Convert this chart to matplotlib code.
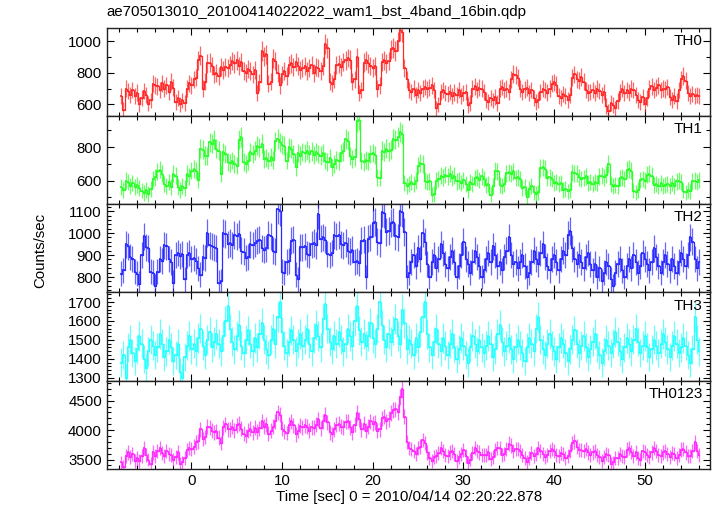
import numpy as np
import matplotlib
matplotlib.use("Agg")
import matplotlib.pyplot as plt
from matplotlib.ticker import MultipleLocator

plt.rcParams['font.family'] = ['Liberation Sans', 'DejaVu Sans']

title = "ae705013010_20100414022022_wam1_bst_4band_16bin.qdp"
xlabel = "Time [sec] 0 = 2010/04/14 02:20:22.878"
ylabel = "Counts/sec"
first_bin_center = -7.725
bin_width = 0.25

th0 = [
    650, 565, 700, 685, 660, 690, 650, 675, 600, 640, 685, 660, 605, 625, 730, 720,
    715, 690, 735, 700, 720, 680, 745, 705, 615, 640, 600, 625, 610, 700, 735, 720,
    760, 770, 880, 910, 700, 745, 860, 865, 845, 790, 800, 780, 835, 820, 840, 830,
    850, 875, 860, 880, 845, 870, 815, 800, 825, 810, 790, 820, 670, 740, 940, 905,
    920, 730, 745, 890, 875, 800, 720, 790, 810, 780, 850, 860, 835, 870, 845, 820,
    830, 845, 815, 830, 850, 800, 835, 830, 815, 845, 985, 960, 745, 730, 760, 850,
    855, 840, 870, 880, 895, 885, 745, 760, 900, 670, 690, 865, 880, 860, 845, 830,
    845, 700, 720, 870, 880, 860, 875, 950, 960, 940, 1000, 1070, 1060, 830, 760, 690,
    680, 700, 660, 690, 670, 700, 710, 695, 705, 720, 690, 575, 600, 680, 690, 670,
    665, 680, 650, 675, 660, 690, 655, 670, 680, 595, 610, 700, 715, 690, 705, 700,
    680, 630, 615, 640, 625, 645, 610, 700, 710, 690, 700, 680, 760, 795, 785, 770,
    700, 680, 695, 705, 670, 690, 640, 615, 630, 680, 700, 690, 675, 700, 730, 740,
    725, 655, 640, 665, 650, 630, 660, 770, 790, 760, 750, 775, 745, 690, 675, 680,
    690, 670, 700, 685, 660, 680, 590, 555, 610, 595, 575, 620, 680, 700, 670, 690,
    675, 700, 690, 660, 630, 615, 645, 600, 640, 700, 715, 690, 705, 720, 690, 700,
    695, 710, 645, 630, 650, 620, 690, 760, 780, 750, 670, 655, 665, 650, 660, 655,
]

th1 = [
    560, 545, 600, 590, 570, 585, 560, 575, 555, 540, 525, 545, 520, 550, 610, 620,
    655, 665, 640, 580, 565, 590, 560, 640, 630, 560, 545, 570, 555, 640, 625, 660,
    670, 660, 605, 790, 785, 750, 745, 830, 820, 845, 790, 780, 640, 770, 760, 710,
    705, 720, 700, 690, 845, 860, 710, 700, 715, 770, 760, 780, 810, 800, 820, 730,
    735, 720, 740, 725, 835, 850, 830, 815, 810, 720, 800, 790, 760, 680, 765, 750,
    770, 765, 780, 760, 775, 755, 770, 760, 750, 765, 720, 710, 735, 680, 700, 725,
    715, 765, 775, 850, 840, 745, 730, 740, 955, 965, 720, 710, 725, 715, 760, 765,
    755, 620, 615, 780, 770, 790, 775, 785, 850, 845, 860, 890, 880, 585, 570, 580,
    590, 580, 600, 690, 705, 700, 600, 590, 595, 515, 520, 600, 610, 630, 620, 635,
    625, 640, 615, 630, 595, 600, 585, 605, 580, 545, 590, 580, 615, 620, 605, 625,
    610, 575, 580, 515, 570, 660, 655, 575, 570, 580, 645, 650, 640, 655, 615, 620,
    610, 555, 560, 500, 550, 565, 530, 520, 530, 675, 680, 670, 615, 620, 610, 585,
    590, 580, 585, 545, 550, 535, 545, 650, 645, 640, 620, 610, 615, 625, 585, 590,
    580, 590, 585, 625, 630, 620, 635, 700, 580, 570, 575, 565, 615, 620, 610, 665,
    670, 660, 540, 530, 545, 605, 610, 600, 635, 640, 630, 575, 580, 565, 585, 570,
    575, 580, 570, 585, 565, 595, 600, 590, 540, 530, 545, 535, 595, 600, 590, 605,
]

th2 = [
    815, 830, 950, 940, 890, 880, 825, 815, 770, 900, 985, 935, 930, 825, 820, 760,
    825, 880, 875, 945, 940, 880, 870, 775, 900, 910, 895, 905, 790, 900, 910, 880,
    885, 875, 840, 810, 890, 885, 1000, 945, 940, 935, 930, 775, 780, 1000, 995, 950,
    955, 945, 990, 985, 995, 920, 915, 885, 890, 950, 945, 955, 965, 970, 930, 925,
    930, 990, 985, 920, 915, 1110, 1100, 825, 820, 870, 875, 965, 970, 810, 790, 935,
    935, 940, 905, 900, 950, 955, 945, 1085, 975, 980, 970, 905, 900, 910, 990, 985,
    990, 950, 945, 955, 920, 915, 925, 870, 875, 865, 965, 970, 800, 975, 980, 1045,
    1050, 960, 955, 1095, 1090, 1005, 1010, 1045, 1050, 985, 980, 1100, 1095, 1005, 800, 820,
    870, 900, 850, 930, 880, 1000, 960, 860, 800, 870, 900, 840, 880, 950, 910, 860,
    840, 890, 920, 870, 800, 850, 900, 960, 880, 860, 820, 870, 920, 890, 850, 800,
    830, 880, 910, 870, 940, 900, 850, 870, 830, 890, 920, 980, 900, 860, 870, 840,
    870, 900, 850, 800, 820, 870, 920, 880, 860, 910, 950, 890, 850, 830, 880, 900,
    870, 830, 880, 920, 900, 990, 1010, 930, 880, 860, 900, 870, 840, 890, 910, 860,
    830, 860, 800, 840, 780, 820, 870, 850, 790, 760, 820, 860, 880, 830, 800, 850,
    880, 840, 900, 870, 820, 850, 910, 880, 860, 830, 870, 930, 890, 850, 820, 870,
    900, 860, 830, 880, 850, 820, 870, 910, 880, 850, 900, 980, 960, 880, 840, 870,
]

th3 = [
    1380, 1420, 1300, 1460, 1500, 1430, 1390, 1450, 1520, 1480, 1400, 1350, 1440, 1500, 1470, 1420,
    1460, 1530, 1480, 1410, 1440, 1500, 1460, 1390, 1420, 1480, 1330, 1300, 1410, 1470, 1520, 1450,
    1480, 1440, 1510, 1560, 1470, 1420, 1500, 1540, 1460, 1490, 1530, 1480, 1440, 1520, 1600, 1680,
    1560, 1490, 1450, 1520, 1580, 1470, 1430, 1500, 1550, 1480, 1440, 1510, 1460, 1530, 1590, 1500,
    1450, 1420, 1500, 1560, 1480, 1620, 1700, 1540, 1470, 1430, 1490, 1550, 1500, 1440, 1480, 1530,
    1470, 1500, 1560, 1480, 1440, 1510, 1580, 1520, 1460, 1610, 1690, 1560, 1490, 1450, 1520, 1480,
    1540, 1500, 1440, 1480, 1560, 1520, 1470, 1600, 1680, 1550, 1490, 1530, 1470, 1520, 1590, 1510,
    1480, 1560, 1700, 1580, 1500, 1460, 1530, 1490, 1550, 1610, 1520, 1480, 1660, 1590, 1450, 1500,
    1480, 1420, 1510, 1460, 1540, 1620, 1700, 1530, 1460, 1420, 1490, 1560, 1480, 1440, 1510, 1470,
    1420, 1480, 1530, 1460, 1400, 1450, 1510, 1470, 1420, 1380, 1460, 1520, 1480, 1440, 1500, 1460,
    1430, 1470, 1520, 1480, 1410, 1450, 1530, 1580, 1490, 1440, 1470, 1510, 1450, 1400, 1460, 1500,
    1470, 1430, 1390, 1460, 1510, 1480, 1440, 1560, 1620, 1500, 1450, 1420, 1480, 1530, 1470, 1440,
    1400, 1460, 1510, 1480, 1430, 1390, 1450, 1500, 1550, 1480, 1430, 1470, 1520, 1460, 1410, 1450,
    1490, 1530, 1460, 1420, 1380, 1440, 1500, 1470, 1430, 1480, 1540, 1490, 1440, 1400, 1460, 1510,
    1480, 1440, 1500, 1560, 1490, 1430, 1470, 1520, 1460, 1410, 1450, 1500, 1470, 1430, 1480, 1530,
    1490, 1450, 1410, 1470, 1520, 1480, 1430, 1460, 1510, 1470, 1420, 1380, 1450, 1620, 1500, 1440,
]

th0123 = [
    3450, 3380, 3560, 3620, 3540, 3600, 3480, 3530, 3470, 3560, 3700, 3580, 3500, 3430, 3620, 3560,
    3640, 3690, 3610, 3560, 3650, 3600, 3580, 3500, 3540, 3620, 3420, 3450, 3520, 3660, 3700, 3680,
    3720, 3790, 3810, 4010, 3850, 3880, 4060, 4050, 3990, 3960, 3980, 3870, 3780, 4050, 4100, 4010,
    4010, 4060, 4000, 4080, 4110, 4020, 3940, 3900, 3990, 4020, 3960, 4040, 3970, 4030, 4150, 4060,
    4100, 3940, 3990, 4060, 4150, 4300, 4260, 4020, 3980, 3950, 4090, 4150, 4080, 3930, 3990, 4070,
    4050, 4080, 4060, 3990, 4050, 4040, 4090, 4180, 4030, 4150, 4260, 4130, 3960, 3930, 4010, 4090,
    4110, 4060, 4050, 4140, 4150, 4050, 3960, 4090, 4290, 4180, 4010, 4110, 3990, 4060, 4150, 4110,
    4130, 3990, 4010, 4200, 4230, 4150, 4190, 4290, 4340, 4350, 4310, 4560, 4690, 4230, 3800, 3700,
    3680, 3640, 3600, 3700, 3720, 3830, 3780, 3620, 3520, 3480, 3540, 3560, 3610, 3700, 3650, 3580,
    3560, 3620, 3640, 3590, 3480, 3540, 3600, 3660, 3560, 3440, 3500, 3610, 3700, 3640, 3620, 3580,
    3570, 3580, 3620, 3510, 3550, 3660, 3700, 3690, 3580, 3590, 3680, 3770, 3740, 3650, 3680, 3680,
    3640, 3580, 3530, 3460, 3530, 3610, 3560, 3600, 3690, 3640, 3600, 3540, 3580, 3640, 3680, 3650,
    3570, 3560, 3610, 3600, 3520, 3560, 3640, 3780, 3810, 3720, 3660, 3660, 3640, 3680, 3620, 3580,
    3620, 3640, 3580, 3550, 3480, 3550, 3600, 3570, 3420, 3450, 3530, 3520, 3600, 3560, 3540, 3670,
    3690, 3630, 3560, 3620, 3530, 3500, 3640, 3620, 3580, 3540, 3620, 3690, 3640, 3570, 3560, 3620,
    3650, 3600, 3550, 3610, 3600, 3530, 3580, 3670, 3680, 3620, 3560, 3560, 3650, 3790, 3640, 3580,
]

series = [th0, th1, th2, th3, th0123]
names = ["TH0", "TH1", "TH2", "TH3", "TH0123"]
colors = ["#ff2b2b", "#2bff2b", "#2b2bff", "#2bffff", "#ff2bff"]
ylims = [(527, 1089), (459, 988), (730, 1132), (1284, 1751), (3339, 4839)]
majors = [200, 200, 100, 100, 500]
minors = [100, 100, 20, 20, 100]

fig = plt.figure(figsize=(7.17, 5.16), dpi=100)
gs = fig.add_gridspec(5, 1, left=0.149, right=0.990, top=0.9467, bottom=0.0911, hspace=0)

axes = []
for k, (vals, name, col, yl, mj, mn) in enumerate(zip(series, names, colors, ylims, majors, minors)):
    ax = fig.add_subplot(gs[k, 0], sharex=axes[0] if axes else None)
    axes.append(ax)
    y = np.asarray(vals, dtype=float)
    t = first_bin_center + bin_width * np.arange(len(y))
    err = np.sqrt(y * bin_width) / bin_width
    ax.errorbar(t, y, yerr=err, fmt='none', ecolor=col, elinewidth=0.9, alpha=0.72)
    ax.plot(t, y, drawstyle='steps-mid', color=col, lw=0.9)
    ax.errorbar(t, y, xerr=bin_width / 2, fmt='none', ecolor=col, elinewidth=1.2)
    ax.set_ylim(*yl)
    ax.yaxis.set_major_locator(MultipleLocator(mj))
    ax.yaxis.set_minor_locator(MultipleLocator(mn))
    ax.xaxis.set_major_locator(MultipleLocator(10))
    ax.xaxis.set_minor_locator(MultipleLocator(2))
    ax.tick_params(which='both', direction='in', top=True, right=True, labelsize=10.8, width=0.8)
    ax.tick_params(which='major', length=5)
    ax.tick_params(which='minor', length=3)
    for s in ax.spines.values():
        s.set_linewidth(1.0)
        s.set_color('#222222')
    ax.text(0.988, 0.93, name, transform=ax.transAxes, ha='right', va='top', fontsize=11)
    if k < 4:
        ax.tick_params(labelbottom=False)

axes[0].set_xlim(-9.3, 57.2)
fig.text(0.149, 0.977, title, ha='left', va='center', fontsize=10.8)
fig.text(0.57, 0.036, xlabel, ha='center', va='center', fontsize=10.8)
fig.text(0.056, 0.515, ylabel, ha='center', va='center', rotation=90, fontsize=10.8)

fig.savefig("out.png", dpi=100)
